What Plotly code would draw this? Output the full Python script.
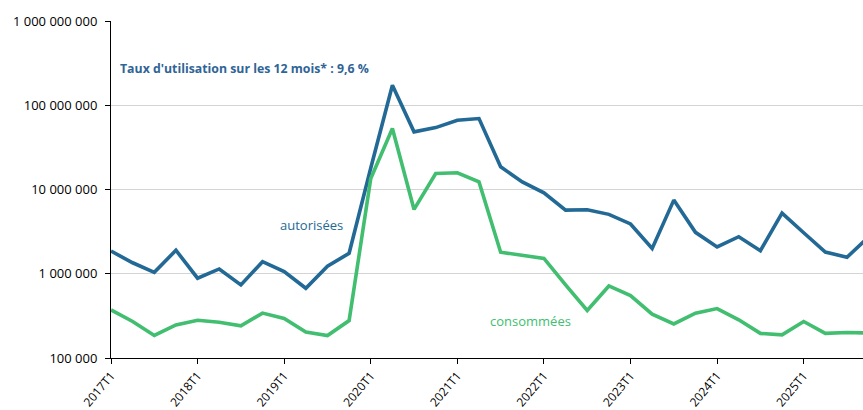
import plotly.graph_objects as go

# Quarterly periods 2017T1 .. 2025T4
years = list(range(2017, 2026))
quarters = [f"{y}T{q}" for y in years for q in range(1, 5)]

# Hours authorised (autorisées), per quarter
autorisees = [
    1.86e6, 1.35e6, 1.04e6, 1.90e6,
    0.885e6, 1.14e6, 0.736e6, 1.39e6,
    1.06e6, 0.673e6, 1.23e6, 1.75e6,
    1.8e7, 1.73e8, 4.83e7, 5.43e7,
    6.64e7, 6.95e7, 1.86e7, 1.23e7,
    9.14e6, 5.7e6, 5.75e6, 5.07e6,
    3.9e6, 2.0e6, 7.48e6, 3.1e6,
    2.08e6, 2.75e6, 1.88e6, 5.25e6,
    3.07e6, 1.81e6, 1.57e6, 2.73e6,
]

# Hours consumed (consommées), per quarter
consommees = [
    3.72e5, 2.71e5, 1.85e5, 2.47e5,
    2.81e5, 2.66e5, 2.41e5, 3.41e5,
    2.94e5, 2.03e5, 1.85e5, 2.78e5,
    1.35e7, 5.3e7, 5.8e6, 1.55e7,
    1.58e7, 1.23e7, 1.8e6, 1.67e6,
    1.52e6, 7.36e5, 3.66e5, 7.16e5,
    5.5e5, 3.31e5, 2.54e5, 3.41e5,
    3.86e5, 2.84e5, 1.96e5, 1.88e5,
    2.71e5, 1.96e5, 2.01e5, 1.98e5,
]

year_ticks = [f"{y}T1" for y in years]

BLUE = "#236995"
GREEN = "#41BE70"
FONT = "Open Sans"

fig = go.Figure()
fig.add_trace(go.Scatter(x=quarters, y=autorisees, mode="lines",
                         line=dict(color=BLUE, width=3.6), name="autorisées",
                         cliponaxis=True))
fig.add_trace(go.Scatter(x=quarters, y=consommees, mode="lines",
                         line=dict(color=GREEN, width=3.6), name="consommées",
                         cliponaxis=True))

fig.update_layout(
    width=863, height=410,
    margin=dict(l=111, r=0, t=21, b=52),
    plot_bgcolor="white", paper_bgcolor="white",
    showlegend=False,
    separators=", ",
    font=dict(family=FONT, color="#000000"),
)

fig.update_xaxes(
    type="category",
    categoryorder="array", categoryarray=quarters,
    range=[0, 34.74],
    tickmode="array", tickvals=year_ticks, ticktext=year_ticks,
    tickangle=-50,
    tickfont=dict(size=12, family=FONT),
    ticks="outside", ticklen=5, tickcolor="#000000",
    showline=True, linecolor="#000000", linewidth=1,
    showgrid=False, zeroline=False,
)

fig.update_yaxes(
    type="log",
    range=[5, 9],
    tickmode="array",
    tickvals=[1e5, 1e6, 1e7, 1e8, 1e9],
    tickformat=",.0f",
    tickfont=dict(size=13, family=FONT),
    ticklabelstandoff=5,
    ticks="outside", ticklen=5, tickcolor="#000000",
    showline=True, linecolor="#000000", linewidth=1,
    showgrid=True, gridcolor="#D4D4D4", gridwidth=1,
    zeroline=False,
)

fig.add_annotation(
    xref="paper", yref="paper", x=0.009, y=0.858,
    xanchor="left", yanchor="middle", showarrow=False,
    text="<b>Taux d'utilisation sur les 12 mois* : 9,6 %</b>",
    font=dict(size=12.3, color="#2F6496", family=FONT),
)
fig.add_annotation(
    xref="paper", yref="paper", x=0.266, y=0.395,
    xanchor="center", yanchor="middle", showarrow=False,
    text="autorisées",
    font=dict(size=13, color=BLUE, family=FONT),
)
fig.add_annotation(
    xref="paper", yref="paper", x=0.5585, y=0.110,
    xanchor="center", yanchor="middle", showarrow=False,
    text="consommées",
    font=dict(size=13, color=GREEN, family=FONT),
)

fig.write_html("out.html")
